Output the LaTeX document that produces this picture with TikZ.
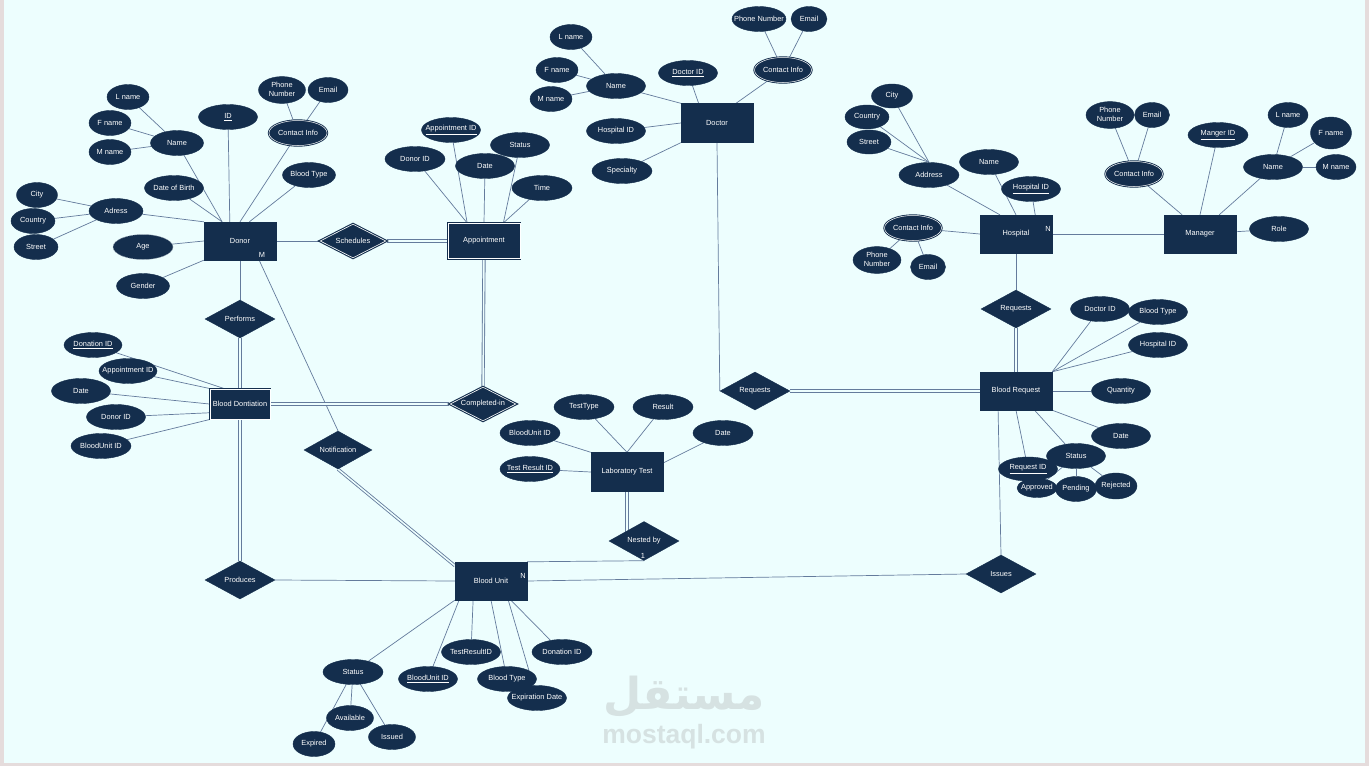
\documentclass[tikz,border=0pt]{standalone}
\usepackage{fontspec}
\setmainfont{Liberation Sans}
\newfontfamily\arabicfont[Script=Arabic]{DejaVu Sans}
\TeXXeTstate=1
\usetikzlibrary{shapes.geometric}
\definecolor{navy}{RGB}{20,46,77}
\definecolor{lc}{RGB}{100,123,156}
\definecolor{bgc}{RGB}{237,254,254}
\definecolor{frm}{RGB}{229,220,220}
\definecolor{wm}{RGB}{214,226,226}
\newcommand{\dfont}{\fontsize{7.4}{9.5}\selectfont}
\newcommand{\lbx}[1]{\makebox[0pt]{#1}}
\newcommand{\two}[2]{\makebox[0pt]{\begin{tabular}{@{}c@{}}#1\\#2\end{tabular}}}
\pgfdeclarelayer{bg}
\pgfsetlayers{bg,main}
\tikzset{
 ent/.style={rectangle, fill=navy, draw=navy, line width=0.4pt, minimum width=72pt, minimum height=38pt, inner sep=0pt, text=white, font=\dfont},
 went/.style={ent, double=white, double distance=0.6pt, line width=1.1pt},
 rel/.style={diamond, fill=navy, draw=navy, line width=0.4pt, minimum width=70pt, minimum height=38pt, inner sep=0pt, text=white, font=\dfont},
 wrel/.style={rel, double=white, double distance=0.6pt, line width=1.1pt},
 att/.style={ellipse, fill=navy, draw=navy, line width=0.4pt, minimum width=#1, minimum height=25pt, inner sep=0pt, text=white, font=\dfont},
 att/.default=59pt,
 matt/.style={att=#1, double=white, double distance=0.5pt, line width=0.9pt},
 matt/.default=57pt,
 datt/.style={att=#1, draw=white!55!navy, dash pattern=on 1.5pt off 1pt},
 conn/.style={draw=lc, line width=0.7pt},
 dconn/.style={draw=lc, line width=0.85pt, double=bgc, double distance=1.5pt},
 lbl/.style={text=white, font=\dfont, inner sep=0pt},
}
\begin{document}
\begin{tikzpicture}[x=1pt,y=-1pt]
\useasboundingbox (0,0) rectangle (1369,766);
\begin{pgfonlayer}{bg}
\fill[bgc] (0,0) rectangle (1369,766);
\fill[frm] (0,0) rectangle (3.5,766);
\fill[frm] (1365,0) rectangle (1369,766);
\fill[frm] (0,762.5) rectangle (1369,766);
\node[text=wm, font=\arabicfont\bfseries\fontsize{44}{44}\selectfont, inner sep=0pt] (wmar) at (684,697) {\beginR مستقل\endR};
\node[text=wm, font=\bfseries\fontsize{26.5}{26.5}\selectfont, inner sep=0pt] (wmla) at (684,737) {mostaql.com};
\end{pgfonlayer}

% ---------- Donor ----------
\node[ent] (donor) at (240,241) {\lbx{Donor}};
\node[lbl] (lM) at (262,255) {M};
\node[att=42pt] (d_lname) at (128,97) {\lbx{L name}};
\node[att=42pt] (d_fname) at (110,123) {\lbx{F name}};
\node[att=42pt] (d_mname) at (110,152) {\lbx{M name}};
\node[att=53pt] (d_name) at (177,143) {\lbx{Name}};
\node[att=59pt] (d_id) at (228,117) {\lbx{\underline{ID}}};
\node[att=47pt, minimum height=26pt] (d_phone) at (282,90) {\two{Phone}{Number}};
\node[att=40pt] (d_email) at (328,90) {\lbx{Email}};
\node[matt=58pt] (d_ci) at (298,133) {\lbx{Contact Info}};
\node[att=59pt] (d_dob) at (174,188) {\lbx{Date of Birth}};
\node[att=53pt] (d_bt) at (309,175) {\lbx{Blood Type}};
\node[att=41pt] (d_city) at (37,195) {\lbx{City}};
\node[att=44pt] (d_country) at (33,221) {\lbx{Country}};
\node[att=44pt] (d_street) at (36,247) {\lbx{Street}};
\node[att=54pt] (d_adr) at (116,211) {\lbx{Adress}};
\node[datt=60pt] (d_age) at (143,247) {\lbx{Age}};
\node[att=53pt] (d_gender) at (143,286) {\lbx{Gender}};

% ---------- Appointment ----------
\node[went, minimum width=72pt, minimum height=35pt] (appt) at (484,241) {\lbx{Appointment}};
\node[att=59pt] (a_id) at (451,130) {\lbx{\underline{Appointment ID}}};
\node[att=60pt] (a_donor) at (415,159) {\lbx{Donor ID}};
\node[att=59pt] (a_status) at (520,145) {\lbx{Status}};
\node[att=59pt] (a_date) at (485,166) {\lbx{Date}};
\node[att=60pt] (a_time) at (542,188) {\lbx{Time}};

% ---------- Doctor ----------
\node[ent, minimum height=39pt] (doc) at (717,123) {\lbx{Doctor}};
\node[att=42pt] (doc_lname) at (571,37) {\lbx{L name}};
\node[att=42pt] (doc_fname) at (557,70) {\lbx{F name}};
\node[att=42pt] (doc_mname) at (551,99) {\lbx{M name}};
\node[att=59pt] (doc_name) at (616,86) {\lbx{Name}};
\node[att=59pt] (doc_id) at (688,73) {\lbx{\underline{Doctor ID}}};
\node[att=54pt] (doc_phone) at (759,19) {\lbx{Phone Number}};
\node[att=36pt] (doc_email) at (809,19) {\lbx{Email}};
\node[matt=57pt] (doc_ci) at (783,70) {\lbx{Contact Info}};
\node[att=59pt] (doc_hid) at (616,131) {\lbx{Hospital ID}};
\node[att=60pt] (doc_spec) at (622,171) {\lbx{Specialty}};

% ---------- Hospital ----------
\node[ent] (hosp) at (1016,234) {\lbx{Hospital}};
\node[lbl] (lN1) at (1048,229) {N};
\node[att=41pt, minimum height=24pt] (h_city) at (892,96) {\lbx{City}};
\node[att=44pt, minimum height=24pt] (h_country) at (867,117) {\lbx{Country}};
\node[att=44pt, minimum height=24pt] (h_street) at (869,142) {\lbx{Street}};
\node[att=60pt] (h_adr) at (929,175) {\lbx{Address}};
\node[att=59pt] (h_name) at (989,162) {\lbx{Name}};
\node[att=59pt] (h_id) at (1031,189) {\lbx{\underline{Hospital ID}}};
\node[matt=57pt] (h_ci) at (913,228) {\lbx{Contact Info}};
\node[att=48pt, minimum height=26pt] (h_phone) at (877,260) {\two{Phone}{Number}};
\node[att=35pt] (h_email) at (928,267) {\lbx{Email}};

% ---------- Manager ----------
\node[ent] (mgr) at (1200,234) {\lbx{Manager}};
\node[att=48pt, minimum height=26pt] (m_phone) at (1110,115) {\two{Phone}{Number}};
\node[att=35pt] (m_email) at (1152,115) {\lbx{Email}};
\node[matt=57pt] (m_ci) at (1134,174) {\lbx{Contact Info}};
\node[att=60pt] (m_id) at (1218,135) {\lbx{\underline{Manger ID}}};
\node[att=59pt] (m_name) at (1273,167) {\lbx{Name}};
\node[att=40pt] (m_lname) at (1288,115) {\lbx{L name}};
\node[att=41pt, minimum height=32pt] (m_fname) at (1331,133) {\lbx{F name}};
\node[att=40pt] (m_mname) at (1336,167) {\lbx{M name}};
\node[att=59pt] (m_role) at (1279,229) {\lbx{Role}};

% ---------- Blood Dontiation ----------
\node[went, minimum width=60pt, minimum height=30pt] (bd) at (240,404) {\lbx{Blood Dontiation}};
\node[att=58pt] (bd_did) at (93,345) {\lbx{\underline{Donation ID}}};
\node[att=58pt] (bd_aid) at (128,371) {\lbx{Appointment ID}};
\node[att=59pt] (bd_date) at (81,391) {\lbx{Date}};
\node[att=59pt] (bd_donor) at (116,417) {\lbx{Donor ID}};
\node[att=60pt] (bd_buid) at (101,446) {\lbx{BloodUnit ID}};

% ---------- Relationships ----------
\node[wrel, minimum width=66pt, minimum height=34pt] (sched) at (353,241) {\lbx{Schedules}};
\node[rel] (perf) at (240,319) {\lbx{Performs}};
\node[wrel, minimum width=66pt, minimum height=34pt] (compl) at (483,404) {\lbx{Completed-in}};
\node[rel, minimum width=68pt] (notif) at (338,450) {\lbx{Notification}};
\node[rel] (req1) at (755,391) {\lbx{Requests}};
\node[rel] (req2) at (1016,309) {\lbx{Requests}};
\node[rel] (prod) at (240,580) {\lbx{Produces}};
\node[rel, minimum height=39pt] (nest) at (644,541) {\lbx{Nested by}};
\node[lbl] (l1) at (643,556) {1};
\node[rel] (issues) at (1001,574) {\lbx{Issues}};

% ---------- Laboratory Test ----------
\node[ent, minimum height=39pt] (lab) at (627,472) {\lbx{Laboratory Test}};
\node[att=60pt] (l_type) at (584,407) {\lbx{TestType}};
\node[att=60pt] (l_result) at (663,407) {\lbx{Result}};
\node[att=60pt] (l_buid) at (530,433) {\lbx{BloodUnit ID}};
\node[att=60pt] (l_date) at (723,433) {\lbx{Date}};
\node[att=60pt] (l_trid) at (530,469) {\lbx{\underline{Test Result ID}}};

% ---------- Blood Request ----------
\node[ent] (br) at (1016,391) {\lbx{Blood Request}};
\node[att=59pt] (r_doc) at (1100,309) {\lbx{Doctor ID}};
\node[att=59pt] (r_bt) at (1158,312) {\lbx{Blood Type}};
\node[att=59pt] (r_hid) at (1158,345) {\lbx{Hospital ID}};
\node[att=59pt] (r_qty) at (1121,391) {\lbx{Quantity}};
\node[att=59pt] (r_date) at (1121,436) {\lbx{Date}};
\node[att=59pt, minimum height=24pt] (r_rid) at (1028,469) {\lbx{\underline{Request ID}}};
\node[att=59pt] (r_status) at (1076,456) {\lbx{Status}};
\node[att=40pt, minimum height=19pt] (r_appr) at (1037,488) {\lbx{Approved}};
\node[att=41pt] (r_pend) at (1076,489) {\lbx{Pending}};
\node[att=42pt, minimum height=26pt] (r_rej) at (1116,486) {\lbx{Rejected}};

% ---------- Blood Unit ----------
\node[ent] (bu) at (491,581) {\lbx{Blood Unit}};
\node[lbl] (lN2) at (523,576) {N};
\node[att=60pt] (u_status) at (353,672) {\lbx{Status}};
\node[att=59pt] (u_buid) at (428,679) {\lbx{\underline{BloodUnit ID}}};
\node[att=59pt] (u_trid) at (471,652) {\lbx{TestResultID}};
\node[att=59pt] (u_bt) at (507,679) {\lbx{Blood Type}};
\node[att=59pt] (u_exp) at (537,698) {\lbx{Expiration Date}};
\node[att=60pt] (u_did) at (562,652) {\lbx{Donation ID}};
\node[att=47pt] (u_avail) at (350,718) {\lbx{Available}};
\node[att=47pt] (u_issued) at (392,737) {\lbx{Issued}};
\node[att=42pt] (u_expired) at (314,744) {\lbx{Expired}};

% ---------- Connectors ----------
\begin{pgfonlayer}{bg}
% donor attributes
\draw[conn] (d_lname) -- (d_name);
\draw[conn] (d_fname) -- (d_name);
\draw[conn] (d_mname) -- (d_name);
\draw[conn] (d_name) -- (donor.133.5);
\draw[conn] (d_dob) -- (donor.133.5);
\draw[conn] (d_id) -- (donor.118);
\draw[conn] (d_ci) -- (donor.north);
\draw[conn] (d_phone) -- (d_ci);
\draw[conn] (d_email) -- (d_ci);
\draw[conn] (d_bt) -- (donor.64.6);
\draw[conn] (d_city) -- (d_adr);
\draw[conn] (d_country) -- (d_adr);
\draw[conn] (d_street) -- (d_adr);
\draw[conn] (d_adr) -- (donor.north west);
\draw[conn] (d_age) -- (donor.west);
\draw[conn] (d_gender) -- (donor.south west);
% appointment attributes
\draw[conn] (a_donor) -- (appt.133.5);
\draw[conn] (a_id) -- (appt.133.5);
\draw[conn] (a_date) -- (appt.north);
\draw[conn] (a_status) -- (appt.43.5);
\draw[conn] (a_time) -- (appt.43.5);
% doctor attributes
\draw[conn] (doc_lname) -- (doc_name);
\draw[conn] (doc_fname) -- (doc_name);
\draw[conn] (doc_mname) -- (doc_name);
\draw[conn] (doc_name) -- (doc.north west);
\draw[conn] (doc_id) -- (doc.133.5);
\draw[conn] (doc_ci) -- (doc.46.5);
\draw[conn] (doc_phone) -- (doc_ci);
\draw[conn] (doc_email) -- (doc_ci);
\draw[conn] (doc_hid) -- (doc.west);
\draw[conn] (doc_spec) -- (doc.south west);
% hospital attributes
\draw[conn] (h_city) -- (h_adr.north);
\draw[conn] (h_country) -- (h_adr.north);
\draw[conn] (h_street) -- (h_adr.north);
\draw[conn] (h_adr) -- (hosp.130);
\draw[conn] (h_name) -- (hosp.north);
\draw[conn] (h_id) -- (hosp.45);
\draw[conn] (h_ci) -- (hosp.west);
\draw[conn] (h_phone) -- (h_ci);
\draw[conn] (h_email) -- (h_ci);
% manager attributes
\draw[conn] (m_phone) -- (m_ci);
\draw[conn] (m_email) -- (m_ci);
\draw[conn] (m_ci) -- (mgr.133.5);
\draw[conn] (m_id) -- (mgr.north);
\draw[conn] (m_name) -- (mgr.45);
\draw[conn] (m_lname) -- (m_name);
\draw[conn] (m_fname) -- (m_name);
\draw[conn] (m_mname) -- (m_name);
\draw[conn] (m_role) -- (mgr);
% blood dontiation attributes
\draw[conn] (bd_did) -- (bd.136.6);
\draw[conn] (bd_aid) -- (bd.north west);
\draw[conn] (bd_date) -- (bd.west);
\draw[conn] (bd_donor) -- (bd.196);
\draw[conn] (bd_buid) -- (bd.south west);
% lab test attributes
\draw[conn] (l_type) -- (lab.north);
\draw[conn] (l_result) -- (lab.north);
\draw[conn] (l_buid) -- (lab.north west);
\draw[conn] (l_trid) -- (lab.west);
\draw[conn] (l_date) -- (lab.14);
% blood request attributes
\draw[conn] (r_doc) -- (br.north east);
\draw[conn] (r_bt) -- (br.north east);
\draw[conn] (r_hid) -- (br.north east);
\draw[conn] (r_qty) -- (br.east);
\draw[conn] (r_date) -- (br.south east);
\draw[conn] (r_status) -- (br.-46.5);
\draw[conn] (r_rid) -- (br.south);
\draw[conn] (r_status) -- (r_appr);
\draw[conn] (r_status) -- (r_pend);
\draw[conn] (r_status) -- (r_rej);
% blood unit attributes
\draw[conn] (u_status) -- (bu.south west);
\draw[conn] (u_buid) -- (bu.-149);
\draw[conn] (u_trid) -- (bu.-133.5);
\draw[conn] (u_bt) -- (bu.south);
\draw[conn] (u_exp) -- (bu.-48);
\draw[conn] (u_did) -- (bu.-44);
\draw[conn] (u_status) -- (u_expired);
\draw[conn] (u_status) -- (u_avail);
\draw[conn] (u_status) -- (u_issued);
% relationships
\draw[conn] (donor.east) -- (sched.west);
\draw[dconn] (sched.east) -- (appt.west);
\draw[conn] (donor.south) -- (perf.north);
\draw[dconn] (perf.south) -- (bd.north);
\draw[conn] (donor.-45) -- (notif.north);
\draw[dconn] (bd.east) -- (compl.west);
\draw[dconn] (appt.south) -- (compl.north);
\draw[dconn] (bd.south) -- (prod.north);
\draw[conn] (prod.east) -- (bu.west);
\draw[dconn] (notif.south) -- (bu.157);
\draw[dconn] (lab.south) -- (lab.south |- nest.center);
\draw[conn] (nest.south) -- (bu.north east);
\draw[conn] (bu.east) -- (issues.west);
\draw[conn] (br.-133.5) -- (issues.north);
\draw[conn] (doc.south) -- (req1.west);
\draw[dconn] (req1.east) -- (br.west);
\draw[conn] (hosp.south) -- (req2.north);
\draw[dconn] (req2.south) -- (br.north);
\draw[conn] (hosp.east) -- (mgr.west);
\end{pgfonlayer}
\end{tikzpicture}
\end{document}
